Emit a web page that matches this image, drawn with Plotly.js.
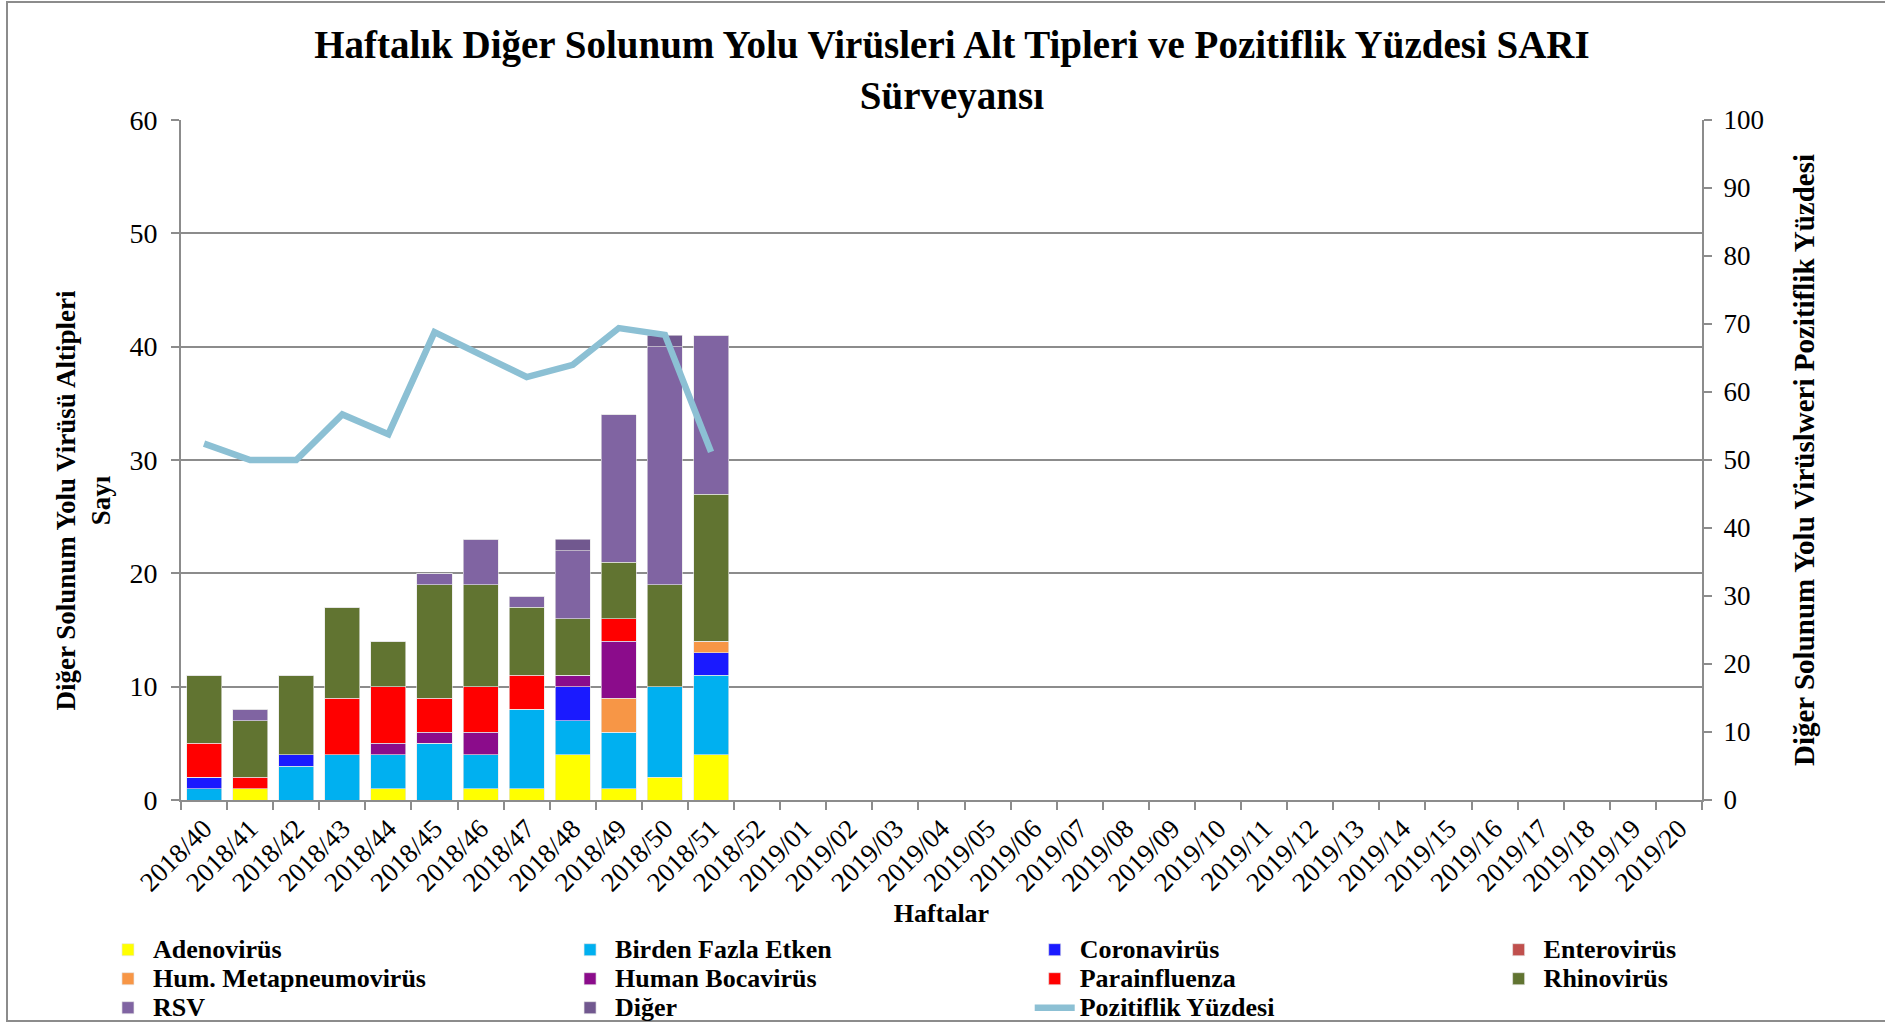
<!DOCTYPE html>
<html>
<head>
<meta charset="utf-8">
<script src="https://cdn.plot.ly/plotly-3.0.1.min.js"></script>
<style>
  html, body { margin: 0; padding: 0; background: #ffffff; }
  #chart { width: 1885px; height: 1024px; }
</style>
</head>
<body>
<div id="chart"></div>
<script>
// Week categories (x axis)
const weeks = [
  "2018/40","2018/41","2018/42","2018/43","2018/44","2018/45","2018/46","2018/47",
  "2018/48","2018/49","2018/50","2018/51","2018/52",
  "2019/01","2019/02","2019/03","2019/04","2019/05","2019/06","2019/07","2019/08",
  "2019/09","2019/10","2019/11","2019/12","2019/13","2019/14","2019/15","2019/16",
  "2019/17","2019/18","2019/19","2019/20"
];

// Series values for weeks 2018/40 .. 2018/51
const adenovirus      = [0, 1, 0, 0, 1, 0, 1, 1, 4, 1, 2, 4];
const birdenFazla     = [1, 0, 3, 4, 3, 5, 3, 7, 3, 5, 8, 7];
const coronavirus     = [1, 0, 1, 0, 0, 0, 0, 0, 3, 0, 0, 2];
const enterovirus     = [0, 0, 0, 0, 0, 0, 0, 0, 0, 0, 0, 0];
const metapneumo      = [0, 0, 0, 0, 0, 0, 0, 0, 0, 3, 0, 1];
const bocavirus       = [0, 0, 0, 0, 1, 1, 2, 0, 1, 5, 0, 0];
const parainfluenza   = [3, 1, 0, 5, 5, 3, 4, 3, 0, 2, 0, 0];
const rhinovirus      = [6, 5, 7, 8, 4, 10, 9, 6, 5, 5, 9, 13];
const rsv             = [0, 1, 0, 0, 0, 1, 4, 1, 6, 13, 21, 14];
const diger           = [0, 0, 0, 0, 0, 0, 0, 0, 1, 0, 1, 0];
const pozitiflik      = [52.4, 50.0, 50.0, 56.7, 53.8, 68.8, 65.5, 62.2, 64.0, 69.4, 68.4, 51.2];

// Series names and colours
const names = ["Adenovirüs","Birden Fazla Etken","Coronavirüs","Enterovirüs",
  "Hum. Metapneumovirüs","Human Bocavirüs","Parainfluenza","Rhinovirüs","RSV","Diğer"];
const colors = ["#ffff00","#00b0f0","#1a1aff","#c0504d","#f79646","#8b0c8b",
  "#ff0000","#617431","#8064a2","#71588f"];
const legendOf = ["legend","legend2","legend3","legend4",
  "legend","legend2","legend3","legend4","legend","legend2"];
const lineName = "Pozitiflik Yüzdesi";
const lineColor = "#8cc0d4";

// Axis titles
const leftTitle = ["Diğer Solunum Yolu Virüsü Altipleri", "Sayı"];
const rightTitle = "Diğer Solunum Yolu Virüslweri Pozitiflik Yüzdesi";
const xTitle = "Haftalar";
const chartTitle = ["Haftalık Diğer Solunum Yolu Virüsleri Alt Tipleri ve Pozitiflik Yüzdesi SARI", "Sürveyansı"];

const series = [adenovirus, birdenFazla, coronavirus, enterovirus, metapneumo,
  bocavirus, parainfluenza, rhinovirus, rsv, diger];

const xData = weeks.slice(0, adenovirus.length);

const font = "Liberation Serif, Times New Roman, serif";
const big = s => '<span style="font-size:26px">' + s + '</span>';
const pad = "\u00A0".repeat(12);

const traces = series.map((vals, i) => ({
  type: "bar",
  name: big(names[i]),
  x: xData,
  y: vals,
  marker: { color: colors[i], line: { color: "rgba(230,230,230,0.8)", width: 0.8 } },
  legend: legendOf[i],
  hoverinfo: "x+y"
}));

traces.push({
  type: "scatter",
  mode: "lines",
  name: big(lineName),
  x: xData,
  y: pozitiflik,
  yaxis: "y2",
  line: { color: lineColor, width: 6.5 },
  legend: "legend3",
  hoverinfo: "x+y"
});

const gridColor = "#8c8c8c";
const legendFont = { family: font, size: 20, color: "#000000", weight: "bold" };
const legendBase = { orientation: "v", traceorder: "normal", font: legendFont,
  yref: "container", xref: "paper",
  yanchor: "top", y: 0.0916, xanchor: "left", bgcolor: "rgba(0,0,0,0)",
  itemwidth: 40, tracegroupgap: 0 };

const layout = {
  width: 1885,
  height: 1024,
  paper_bgcolor: "#ffffff",
  plot_bgcolor: "#ffffff",
  margin: { l: 181, r: 183, t: 120, b: 224 },
  font: { family: font, color: "#000000" },
  title: {
    text: "<b>" + chartTitle.join("<br>") + "</b>",
    font: { family: font, size: 39, color: "#000000" },
    x: 0.505, xanchor: "center",
    y: 0.943, yanchor: "top", yref: "container"
  },
  barmode: "stack",
  bargap: 0.24,
  xaxis: {
    type: "category",
    categoryorder: "array",
    categoryarray: weeks,
    tickvals: weeks,
    range: [-0.5, weeks.length - 0.5],
    tickangle: -45,
    tickfont: { family: font, size: 27, color: "#000000" },
    ticks: "outside",
    tickson: "boundaries",
    ticklen: 8,
    tickcolor: gridColor,
    tickwidth: 2,
    showline: true,
    linecolor: gridColor,
    linewidth: 2,
    showgrid: false,
    automargin: false,
    title: { text: "<b>" + xTitle + "</b>", font: { family: font, size: 26, color: "#000000" }, standoff: 8 }
  },
  yaxis: {
    range: [0, 60],
    dtick: 10,
    tickfont: { family: font, size: 28, color: "#000000" },
    ticks: "outside",
    ticklen: 8,
    tickcolor: gridColor,
    tickwidth: 2,
    ticklabelstandoff: 8,
    showline: true,
    linecolor: gridColor,
    linewidth: 2,
    showgrid: true,
    gridcolor: gridColor,
    gridwidth: 2,
    zeroline: false,
    automargin: false,
    title: { text: "<b>" + leftTitle.map(s => s + pad).join("<br>") + "</b>", font: { family: font, size: 27, color: "#000000" }, standoff: 11 }
  },
  yaxis2: {
    overlaying: "y",
    side: "right",
    range: [0, 100],
    dtick: 10,
    tickfont: { family: font, size: 27, color: "#000000" },
    ticks: "outside",
    ticklen: 8,
    tickcolor: gridColor,
    tickwidth: 2,
    ticklabelstandoff: 6,
    showline: true,
    linecolor: gridColor,
    linewidth: 2,
    showgrid: false,
    zeroline: false,
    automargin: false,
    title: { text: "<b>" + rightTitle + "</b>", font: { family: font, size: 29, color: "#000000" }, standoff: 31 }
  },
  legend:  Object.assign({}, legendBase, { x: -0.0513 }),
  legend2: Object.assign({}, legendBase, { x: 0.2525 }),
  legend3: Object.assign({}, legendBase, { x: 0.558 }),
  legend4: Object.assign({}, legendBase, { x: 0.863 }),
  shapes: [{
    type: "rect", xref: "paper", yref: "paper",
    x0: -0.1144, x1: 1.125, y0: -0.325, y1: 1.1735,
    line: { color: "#8c8c8c", width: 2 }, fillcolor: "rgba(0,0,0,0)", layer: "below"
  }]
};

Plotly.newPlot("chart", traces, layout, { displayModeBar: false, staticPlot: true });
</script>
</body>
</html>
